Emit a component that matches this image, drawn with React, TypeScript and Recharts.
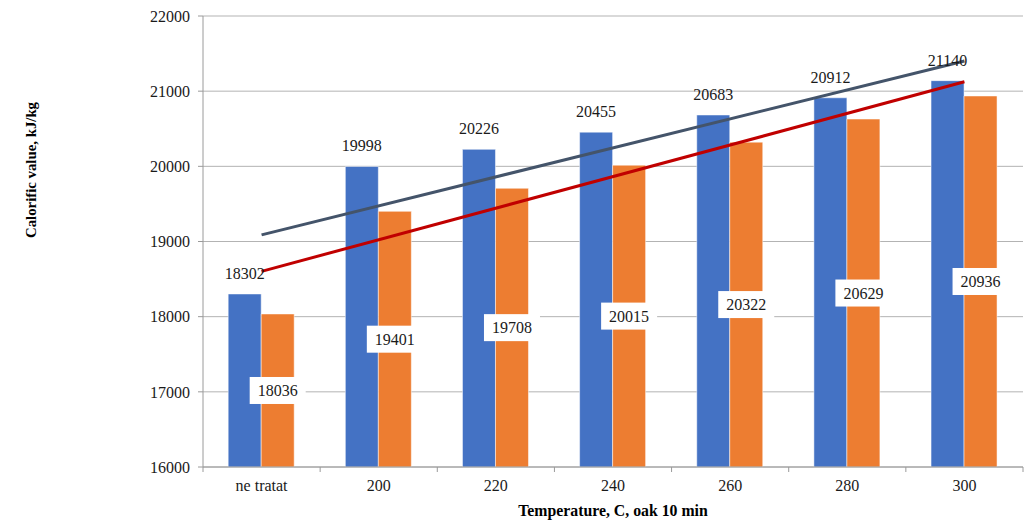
import React from "react";
import {
  BarChart,
  Bar,
  Line,
  XAxis,
  YAxis,
  CartesianGrid,
  LabelList,
} from "recharts";

// Categories (treatment temperature) and measured calorific values, kJ/kg
const categories = ["ne tratat", "200", "220", "240", "260", "280", "300"];
const seriesA = [18302, 19998, 20226, 20455, 20683, 20912, 21140];
const seriesB = [18036, 19401, 19708, 20015, 20322, 20629, 20936];
// Linear trend lines: only the two end points, joined straight across
const trendA = [19088, null, null, null, null, null, 21402];
const trendB = [18603, null, null, null, null, null, 21125];
const yTicks = [16000, 17000, 18000, 19000, 20000, 21000, 22000];

const data = categories.map((name, i) => ({
  name,
  a: seriesA[i],
  b: seriesB[i],
  ta: trendA[i],
  tb: trendB[i],
}));

const FONT = '"Liberation Serif", "Times New Roman", serif';
const AXIS_GREY = "#9a9a9a";
const GRID_GREY = "#b3b3b3";

// Category tick: label at the centre, small tick marks at band edges
const CategoryTick = (props: any) => {
  const { x, y, payload, index } = props;
  const half = payload && payload.offset ? payload.offset : 0;
  const axisY = y - 13;
  return (
    <g>
      <line x1={x - half} x2={x - half} y1={axisY} y2={axisY + 5} stroke={AXIS_GREY} />
      {index === categories.length - 1 && (
        <line x1={x + half} x2={x + half} y1={axisY} y2={axisY + 5} stroke={AXIS_GREY} />
      )}
      <text
        x={x}
        y={y + 11}
        textAnchor="middle"
        style={{ fontFamily: FONT, fontSize: 16 }}
        fill="#1a1a1a"
      >
        {payload.value}
      </text>
    </g>
  );
};

// Boxed value label centred in the second bar series
const BoxedLabel = (props: any) => {
  const { x, y, width, height, value } = props;
  const cx = x + width / 2;
  const cy = y + height / 2;
  const w = 56;
  const h = 27;
  return (
    <g>
      <rect x={cx - w / 2} y={cy - h / 2} width={w} height={h} fill="#ffffff" />
      <text
        x={cx}
        y={cy}
        textAnchor="middle"
        dominantBaseline="central"
        style={{ fontFamily: FONT, fontSize: 16 }}
        fill="#1a1a1a"
      >
        {value}
      </text>
    </g>
  );
};

const YTitle = () => (
  <text
    x={31}
    y={170}
    transform="rotate(-90 31 170)"
    textAnchor="middle"
    dominantBaseline="central"
    style={{ fontFamily: FONT, fontSize: 14.8, fontWeight: "bold" }}
    fill="#000"
  >
    Calorific value, kJ/kg
  </text>
);

const XTitle = () => (
  <text
    x={613}
    y={516}
    textAnchor="middle"
    style={{ fontFamily: FONT, fontSize: 15.8, fontWeight: "bold" }}
    fill="#000"
  >
    Temperature, C, oak 10 min
  </text>
);

export default function App() {
  return (
    <div style={{ position: "absolute", left: 0, top: 0, width: 1025, height: 520, background: "#fff" }}>
      <BarChart
        width={1025}
        height={520}
        data={data}
        margin={{ top: 16, right: 2, bottom: 0, left: 143 }}
        barCategoryGap="21.5%"
        barGap={0}
      >
        <CartesianGrid vertical={false} stroke={GRID_GREY} />
        <XAxis
          dataKey="name"
          height={53}
          axisLine={{ stroke: AXIS_GREY }}
          tickLine={false}
          tickSize={5}
          tickMargin={8}
          interval={0}
          tick={<CategoryTick />}
          label={{ content: () => <XTitle /> }}
        />
        <YAxis
          width={60}
          domain={[16000, 22000]}
          ticks={yTicks}
          interval={0}
          axisLine={{ stroke: AXIS_GREY }}
          tickLine={{ stroke: AXIS_GREY }}
          tickSize={5}
          tickMargin={8}
          tick={{ fontFamily: FONT, fontSize: 16, fill: "#1a1a1a", style: { fontFamily: FONT } }}
          label={{ content: () => <YTitle /> }}
        />
        <Bar dataKey="a" fill="#4472C4" stroke="#ffffff" strokeWidth={0.5} isAnimationActive={false}>
          <LabelList
            dataKey="a"
            position="top"
            offset={15}
            fontFamily={FONT}
            fontSize={16}
            fill="#1a1a1a"
            style={{ fontFamily: FONT, fontSize: 16, fill: "#1a1a1a" }}
          />
        </Bar>
        <Bar dataKey="b" fill="#ED7D31" stroke="#ffffff" strokeWidth={0.5} isAnimationActive={false}>
          <LabelList dataKey="b" content={<BoxedLabel />} />
        </Bar>
        <Line
          dataKey="ta"
          type="linear"
          stroke="#44546A"
          strokeWidth={3}
          dot={false}
          activeDot={false}
          connectNulls
          isAnimationActive={false}
        />
        <Line
          dataKey="tb"
          type="linear"
          stroke="#C00000"
          strokeWidth={3}
          dot={false}
          activeDot={false}
          connectNulls
          isAnimationActive={false}
        />
      </BarChart>
    </div>
  );
}
